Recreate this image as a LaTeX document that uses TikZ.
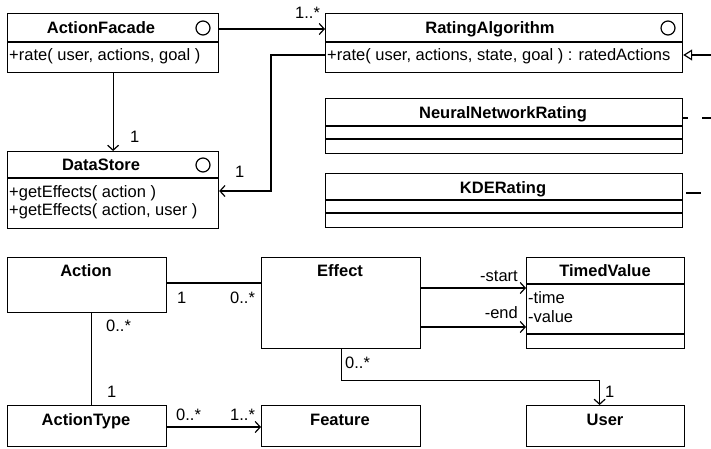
\documentclass[tikz,border=0pt]{standalone}
\usepackage{fontspec}
\setmainfont{Liberation Sans}
\usetikzlibrary{arrows.meta}

\begin{document}
\begin{tikzpicture}[x=1pt,y=-1pt]
    \tikzstyle{cls} = [rectangle, draw=black, line width=1.2pt, fill=white, anchor=north west, inner sep=0pt]
    \tikzstyle{head} = [anchor=base, font=\bfseries, inner sep=0pt]
    \tikzstyle{memb} = [anchor=base west, inner sep=0pt]
    \tikzstyle{mult} = [anchor=base west, inner sep=0pt]
    \tikzstyle{iface} = [circle, draw=black, line width=1.2pt, minimum size=14pt, inner sep=0pt]
    \tikzstyle{assoc} = [line width=1.2pt]
    \tikzstyle{nav} = [assoc, -{Straight Barb[length=5pt, width=11pt]}]
    \tikzstyle{gen} = [assoc, -{Triangle[open, length=9pt, width=11pt]}]
    \tikzstyle{real} = [assoc, dash pattern=on 15pt off 14pt]
    \fontsize{16.5}{18}\selectfont
    \useasboundingbox (0,0) rectangle (711,448);
    \clip (0,0) rectangle (711,448);

    % rating part
    \node[cls, minimum width=211, minimum height=59] (facade) at (7,13) {};
    \draw[assoc] ([yshift=-29]facade.north west) -- ([yshift=-29]facade.north east);
    \node[head] (facadeT) at (101,33) {ActionFacade};
    \node[iface] (facadeI) at (203,28) {};
    \node[memb] (facadeM) at (9,60) {+rate( user, actions, goal )};

    \node[cls, minimum width=211, minimum height=77] (store) at (7,151) {};
    \draw[assoc] ([yshift=-27]store.north west) -- ([yshift=-27]store.north east);
    \node[head] (storeT) at (101,170) {DataStore};
    \node[iface] (storeI) at (203,165) {};
    \node[memb] (storeM1) at (9,197) {+getEffects( action )};
    \node[memb] (storeM2) at (9,215) {+getEffects( action, user )};

    \node[cls, minimum width=357, minimum height=59] (rating) at (325,13) {};
    \draw[assoc] ([yshift=-29]rating.north west) -- ([yshift=-29]rating.north east);
    \node[head] (ratingT) at (490,33) {RatingAlgorithm};
    \node[iface] (ratingI) at (668,28) {};
    \node[memb] (ratingM) at (327,60) {+rate( user, actions, state, goal ) : ratedActions};

    \node[cls, minimum width=357, minimum height=55] (nnr) at (325,98) {};
    \draw[assoc] ([yshift=-28]nnr.north west) -- ([yshift=-28]nnr.north east);
    \draw[assoc] ([yshift=-41]nnr.north west) -- ([yshift=-41]nnr.north east);
    \node[head] (nnrT) at (503,118) {NeuralNetworkRating};

    \node[cls, minimum width=357, minimum height=54] (kde) at (325,173) {};
    \draw[assoc] ([yshift=-27]kde.north west) -- ([yshift=-27]kde.north east);
    \draw[assoc] ([yshift=-40]kde.north west) -- ([yshift=-40]kde.north east);
    \node[head] (kdeT) at (503,193) {KDERating};

    \draw[nav] ([yshift=-16]facade.north east) -- ([yshift=-16]rating.north west);
    \node[mult] (m1) at (295,18) {1..*};
    \draw[nav] (facade.south) -- (store.north);
    \node[mult] (m2) at (130,142) {1};
    \draw[nav] ([yshift=-42]rating.north west) -- ++(-54,0) |- ([yshift=-40]store.north east);
    \node[mult] (m3) at (235,177) {1};

    \coordinate (genin) at (712,55);
    \draw[gen] (genin) -- ([yshift=-42]rating.north east);
    \coordinate (nnrout) at (712,118);
    \draw[real, dash phase=10pt] ([yshift=-20]nnr.north east) -- (nnrout);
    \coordinate (kdeout) at (712,193);
    \draw[real, dash phase=26pt] ([yshift=-20]kde.north east) -- (kdeout);

    % domain part
    \node[cls, minimum width=159, minimum height=55] (action) at (7,257) {};
    \node[head] (actionT) at (86,276) {Action};
    \node[cls, minimum width=159, minimum height=91] (effect) at (261,257) {};
    \node[head] (effectT) at (340,276) {Effect};

    \node[cls, minimum width=158, minimum height=91] (timed) at (526,257) {};
    \draw[assoc] ([yshift=-27]timed.north west) -- ([yshift=-27]timed.north east);
    \draw[assoc] ([yshift=-77]timed.north west) -- ([yshift=-77]timed.north east);
    \node[head] (timedT) at (605,276) {TimedValue};
    \node[memb] (timedA1) at (528,303) {-time};
    \node[memb] (timedA2) at (528,322) {-value};

    \node[cls, minimum width=159, minimum height=41] (atype) at (7,405) {};
    \node[head] (atypeT) at (86,425) {ActionType};
    \node[cls, minimum width=159, minimum height=41] (feature) at (261,405) {};
    \node[head] (featureT) at (340,425) {Feature};
    \node[cls, minimum width=158, minimum height=41] (user) at (526,405) {};
    \node[head] (userT) at (605,425) {User};

    \draw[assoc] ([yshift=-26]action.north east) -- ([yshift=-26]effect.north west);
    \node[mult] (m4) at (177,303) {1};
    \node[mult] (m5) at (230,303) {0..*};
    \draw[assoc] ([xshift=4]action.south) -- ([xshift=4]atype.north);
    \node[mult] (m6) at (106,331) {0..*};
    \node[mult] (m7) at (107,397) {1};
    \draw[nav] ([yshift=-22]atype.north east) -- ([yshift=-22]feature.north west);
    \node[mult] (m8) at (176,420) {0..*};
    \node[mult] (m9) at (230,420) {1..*};
    \draw[nav] ([yshift=-31]effect.north east) -- ([yshift=-31]timed.north west);
    \node[anchor=base east, inner sep=0pt] (rstart) at (518,281) {-start};
    \draw[nav] ([yshift=-70]effect.north east) -- ([yshift=-70]timed.north west);
    \node[anchor=base east, inner sep=0pt] (rend) at (518,318) {-end};
    \draw[nav] (effect.south) -- ++(0,31) -| ([xshift=-6]user.north);
    \node[mult] (m10) at (345,368) {0..*};
    \node[mult] (m11) at (605,397) {1};
\end{tikzpicture}
\end{document}
